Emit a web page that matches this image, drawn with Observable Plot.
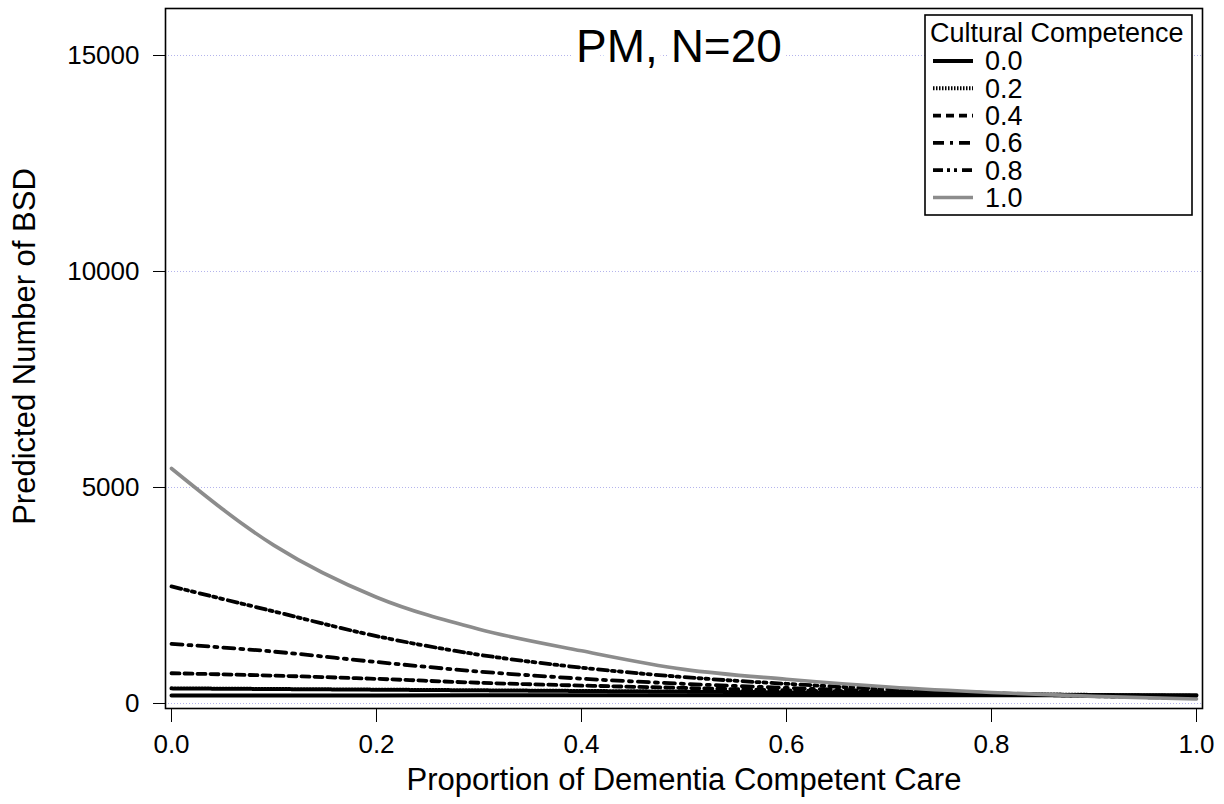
<!DOCTYPE html>
<html>
<head>
<meta charset="utf-8">
<script src="https://cdn.jsdelivr.net/npm/d3@7"></script>
<script src="https://cdn.jsdelivr.net/npm/@observablehq/plot@0.6"></script>
<style>
  body { margin: 0; background: #fff; }
  svg { display: block; }
</style>
</head>
<body>
<div id="chart"></div>
<script>
// ---- data ----
const proportion = [0, 0.1, 0.2, 0.3, 0.4, 0.5, 0.6, 0.7, 0.8, 0.9, 1.0];
const levels = ["0.0", "0.2", "0.4", "0.6", "0.8", "1.0"];
const bsd00 = [185, 186, 187, 188, 189, 190, 190, 190, 190, 190, 190];
const bsd02 = [350, 335, 320, 305, 290, 275, 258, 240, 220, 198, 175];
const bsd04 = [700, 645, 570, 480, 415, 360, 305, 260, 220, 188, 160];
const bsd06 = [1380, 1200, 960, 740, 575, 455, 360, 280, 218, 175, 145];
const bsd08 = [2710, 2130, 1560, 1130, 830, 610, 455, 330, 240, 170, 125];
const bsd10 = [5440, 3660, 2460, 1720, 1220, 790, 560, 380, 255, 165, 105];
const xTicks = [0, 0.2, 0.4, 0.6, 0.8, 1.0];
const yTicks = [0, 5000, 10000, 15000];
const titleText = "PM, N=20";
const xLabel = "Proportion of Dementia Competent Care";
const yLabel = "Predicted Number of BSD";
const legendTitle = "Cultural Competence";

// ---- styles ----
const series = [bsd00, bsd02, bsd04, bsd06, bsd08, bsd10];
const dashes = [null, "1.5,1.5", "8,5", "11,6,3,6", "10,4,3,4,3,5", null];
const colors = ["#000", "#000", "#000", "#000", "#000", "#8c8c8c"];
const widths = [4, 4, 3.8, 3.8, 3.8, 3.6];
const font = "'Liberation Sans', Arial, Helvetica, sans-serif";

const rows = levels.map((lv, i) => proportion.map((p, j) => ({cc: lv, p, v: series[i][j]})));

const lineMarks = rows.map((data, i) =>
  Plot.line(data, {
    x: "p", y: "v", stroke: colors[i], strokeWidth: widths[i],
    strokeDasharray: dashes[i] ?? undefined, curve: "monotone-x"
  })
);

const plot = Plot.plot({
  width: 1224,
  height: 804,
  marginLeft: 165,
  marginRight: 22,
  marginTop: 8,
  marginBottom: 96,
  style: {fontFamily: font, fontSize: "26px", color: "#000", background: "#fff"},
  x: {domain: [-0.00585, 1.00585], ticks: xTicks, tickFormat: d3.format(".1f"), tickSize: 14, tickPadding: 12, label: null},
  y: {domain: [-116, 16088], ticks: yTicks, tickFormat: d => String(d), tickSize: 12, tickPadding: 14, label: null},
  marks: [
    Plot.gridY(yTicks, {stroke: "#b4b4ec", strokeOpacity: 1, strokeWidth: 1, strokeDasharray: "1,2"}),
    ...lineMarks,
    Plot.frame({stroke: "#000", strokeWidth: 1.6}),
    Plot.text([titleText], {frameAnchor: "top", dx: -5, dy: 39, textAnchor: "middle", lineAnchor: "middle",
      fontSize: 46, fill: "#000", stroke: "#fff", strokeWidth: 14, paintOrder: "stroke"}),
    Plot.text([xLabel], {frameAnchor: "bottom", dy: 72, textAnchor: "middle", lineAnchor: "middle", fontSize: 31, fill: "#000"}),
    Plot.text([yLabel], {frameAnchor: "left", dx: -140, dy: -12, rotate: -90, textAnchor: "middle", lineAnchor: "middle", fontSize: 31, fill: "#000"})
  ]
});

// ---- legend ----
const svg = d3.select(plot);
const lg = svg.append("g").attr("font-family", font).attr("font-size", 27).attr("text-anchor", "start");
lg.append("rect").attr("x", 925).attr("y", 15).attr("width", 267).attr("height", 200)
  .attr("fill", "#fff").attr("stroke", "#000").attr("stroke-width", 1.6);
lg.append("text").attr("x", 930).attr("y", 33).attr("dy", "0.35em").attr("fill", "#000").text(legendTitle);
levels.forEach((lv, i) => {
  const y = 61 + i * 27.3;
  const ln = lg.append("line").attr("x1", 933).attr("x2", 973).attr("y1", y).attr("y2", y)
    .attr("stroke", colors[i]).attr("stroke-width", widths[i]);
  if (dashes[i]) ln.attr("stroke-dasharray", dashes[i]);
  lg.append("text").attr("x", 985).attr("y", y).attr("dy", "0.35em").attr("fill", "#000").text(lv);
});

document.getElementById("chart").appendChild(plot);
</script>
</body>
</html>
